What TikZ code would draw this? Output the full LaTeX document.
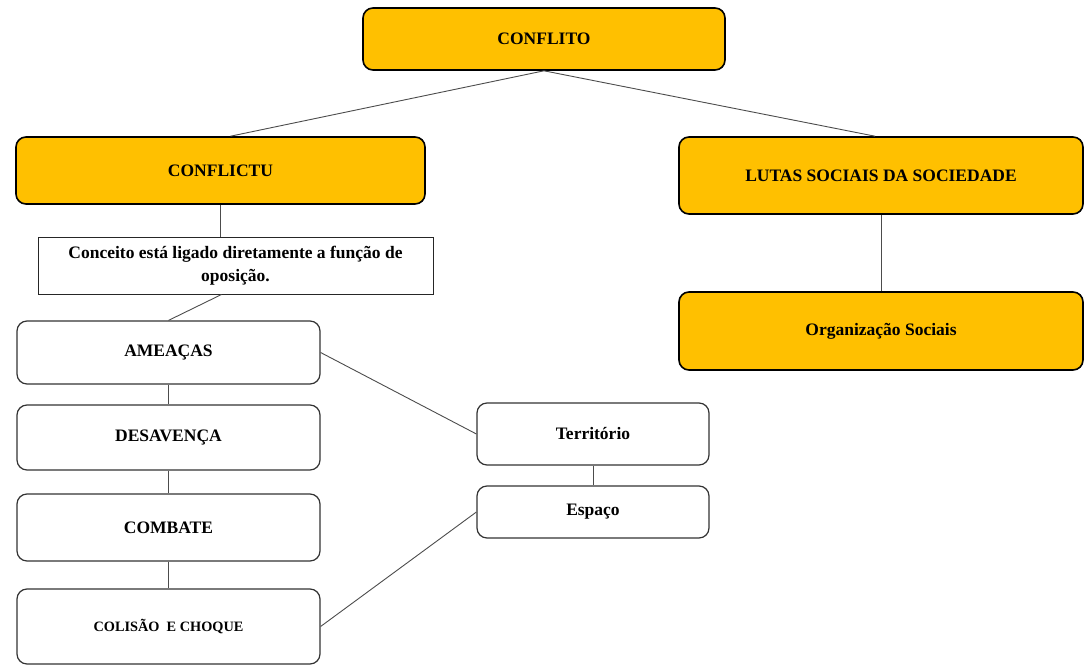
\documentclass[tikz,border=0pt]{standalone}
\usepackage{fontspec}
\setmainfont{Liberation Serif}
\definecolor{amarelo}{HTML}{FFC000}

\begin{document}
\begin{tikzpicture}[
    x=1pt, y=-1pt,
    every node/.style={align=center, font=\bfseries\fontsize{17.5}{21}\selectfont},
    mainbox/.style={draw, line width=1.6pt, rounded corners=10pt, fill=amarelo},
    subbox/.style={draw=black!80, line width=1.2pt, rounded corners=10pt, fill=white},
    notebox/.style={draw=black!85, line width=1pt, fill=white},
    link/.style={draw=black!70, line width=0.9pt}
]
    \useasboundingbox (0,0) rectangle (1084,666);
    % Top level
    \node[mainbox, minimum width=362pt, minimum height=62pt] (conflito) at (544,39) {CONFLITO};
    \node[mainbox, minimum width=409pt, minimum height=67pt] (conflictu) at (220.5,170.5) {CONFLICTU};
    \node[mainbox, minimum width=404pt, minimum height=77pt] (lutas) at (881,175.5) {LUTAS SOCIAIS DA SOCIEDADE};
    \node[mainbox, minimum width=404pt, minimum height=78pt] (org) at (881,331) {Organização Sociais};
    % Left column
    \node[notebox, minimum width=395pt, minimum height=57pt, font=\bfseries\fontsize{17.5}{23}\selectfont] (conceito) at (235.5,265.5)
        {Conceito está ligado diretamente a função de\\oposição.};
    \node[subbox, minimum width=303pt, minimum height=63pt] (ameacas) at (168.5,352.5) {AMEAÇAS};
    \node[subbox, minimum width=303pt, minimum height=65pt] (desavenca) at (168.5,437.5) {DESAVENÇA};
    \node[subbox, minimum width=303pt, minimum height=67pt] (combate) at (168.5,527.5) {COMBATE};
    \node[subbox, minimum width=303pt, minimum height=75pt, font=\bfseries\fontsize{14.3}{17}\selectfont] (colisao) at (168.5,626.5) {COLISÃO\ \ E CHOQUE};
    % Middle
    \node[subbox, minimum width=232pt, minimum height=62pt] (territorio) at (593,434) {Território};
    \node[subbox, minimum width=232pt, minimum height=52pt] (espaco) at (593,512) {Espaço};

    % Links
    \draw[link] (conflito.south) -- ([xshift=10pt]conflictu.north);
    \draw[link] (conflito.south) -- ([xshift=-6pt]lutas.north);
    \draw[link] (conflictu.south) -- (conflictu.south |- conceito.north);
    \draw[link] ([xshift=-14pt]conceito.south) -- (ameacas.north);
    \draw[link] (ameacas) -- (desavenca);
    \draw[link] (desavenca) -- (combate);
    \draw[link] (combate) -- (colisao);
    \draw[link] (ameacas.east) -- (territorio.west);
    \draw[link] (territorio) -- (espaco);
    \draw[link] (espaco.west) -- (colisao.east);
    \draw[link] (lutas) -- (org);
\end{tikzpicture}
\end{document}
